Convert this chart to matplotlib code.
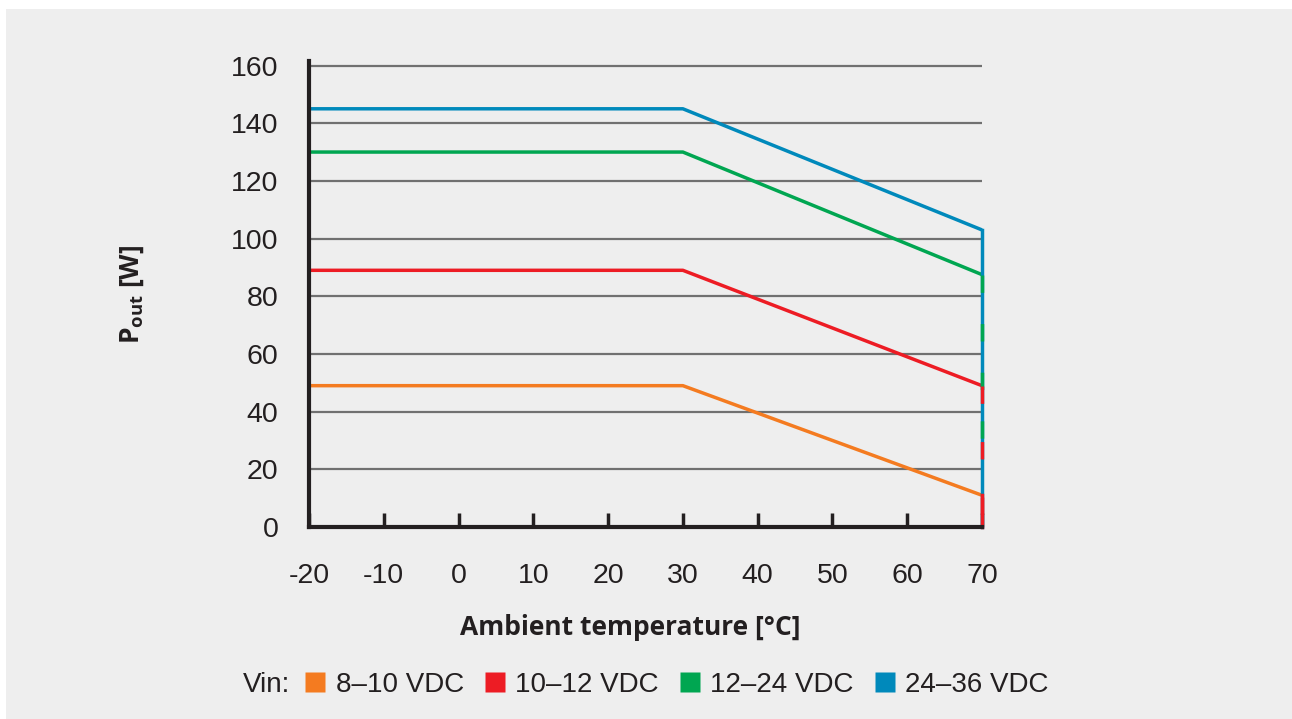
import matplotlib.pyplot as plt
from matplotlib.lines import Line2D
from matplotlib.patches import Rectangle

# 数据：环境温度与输出功率（降额曲线）
temps = [-20, 30, 70]
p_8_10 = [49, 49, 11]
p_10_12 = [89, 89, 49]
p_12_24 = [130, 130, 87.5]
p_24_36 = [145, 145, 103]
series_labels = ['8–10 VDC', '10–12 VDC', '12–24 VDC', '24–36 VDC']
colors = ['#f47b20', '#ed1c24', '#00a651', '#0089bb']
x_ticks = [-20, -10, 0, 10, 20, 30, 40, 50, 60, 70]
y_ticks = [0, 20, 40, 60, 80, 100, 120, 140, 160]

plt.rcParams['font.family'] = ['Liberation Sans', 'DejaVu Sans']
plt.rcParams['mathtext.fontset'] = 'custom'
plt.rcParams['mathtext.bf'] = 'Open Sans:bold'
plt.rcParams['mathtext.rm'] = 'Open Sans'

fig = plt.figure(figsize=(12.92, 7.19), dpi=100, facecolor='white')
# 浅灰色背景面板
fig.patches.append(Rectangle((6 / 1292, 0), 1, 1 - 9 / 719, transform=fig.transFigure,
                             facecolor='#eeeeee', edgecolor='none', zorder=-10))

ax = fig.add_axes([309 / 1292, 1 - 527 / 719, 673 / 1292, (527 - 61.2) / 719])
ax.set_facecolor('none')

all_series = [p_8_10, p_10_12, p_12_24, p_24_36]
for vals, c in zip(all_series, colors):
    ax.plot(temps, vals, color=c, lw=2.5, solid_capstyle='butt', zorder=3, clip_on=False)

# 70°C 处的竖线（各颜色叠加的虚线效果）
ax.plot([70, 70], [p_24_36[-1], 0], color=colors[3], lw=2.5, zorder=3, clip_on=False)
ax.plot([70, 70], [p_12_24[-1], 30], color=colors[2], lw=2.5, dashes=(5, 9),
        zorder=4, clip_on=False)
ax.plot([70, 70], [p_10_12[-1], 0], color=colors[1], lw=2.5, dashes=(5, 11),
        zorder=4, clip_on=False)
ax.plot([70, 70], [p_8_10[-1], 0], color=colors[1], lw=2.5, zorder=5, clip_on=False)

ax.set_xlim(-20, 70)
ax.set_ylim(0, 161.5)
ax.set_xticks(x_ticks)
ax.set_yticks(y_ticks)
ax.set_xticklabels([str(t) for t in x_ticks])
ax.set_yticklabels([str(t) for t in y_ticks])
ax.grid(axis='y', color='#707070', lw=1.6, zorder=1)
ax.tick_params(axis='x', direction='in', length=10, width=2.5, color='#231f20',
               labelsize=20.5, pad=26, labelcolor='#231f20')
ax.tick_params(axis='y', length=0, labelsize=20.5, pad=22, labelcolor='#231f20')
for s in ['top', 'right']:
    ax.spines[s].set_visible(False)
for s in ['left', 'bottom']:
    ax.spines[s].set_linewidth(3)
    ax.spines[s].set_color('#231f20')
    ax.spines[s].set_zorder(6)

ax.set_xlabel('Ambient temperature [°C]', fontsize=19, fontweight='bold',
              family='Open Sans', color='#231f20')
ax.xaxis.set_label_coords(0.478, -0.186)
ax.set_ylabel(r'$\mathbf{P_{out}}$ [W]', fontsize=19, fontweight='bold',
              family='Open Sans', color='#231f20')
ax.yaxis.set_label_coords(-0.242, 0.5)

# 图例
fig.text(243 / 1292, 1 - 685 / 719, 'Vin:', fontsize=20, va='center', ha='left',
         color='#231f20')
handles = [Line2D([], [], marker='s', linestyle='none', markersize=14,
                  markerfacecolor=c, markeredgecolor='none') for c in colors]
fig.legend(handles, series_labels, loc='center left', ncol=4,
           bbox_to_anchor=(305 / 1292, 1 - 685 / 719), frameon=False, fontsize=20,
           handlelength=0.75, handletextpad=0.35, columnspacing=0.75, borderpad=0,
           borderaxespad=0, labelcolor='#231f20')

fig.savefig('out.png', dpi=100, facecolor='white')
